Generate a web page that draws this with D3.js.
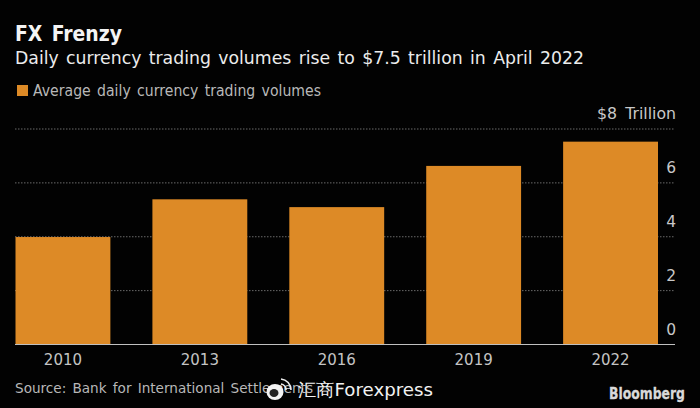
<!DOCTYPE html>
<html><head><meta charset="utf-8">
<script src="https://cdn.jsdelivr.net/npm/d3@7"></script>
<style>html,body{margin:0;padding:0;background:#000}svg{display:block}text{font-family:"DejaVu Sans",sans-serif}</style>
</head><body><div id="c"></div>
<script>
const categories=["2010","2013","2016","2019","2022"];
const values=[3.99,5.39,5.1,6.63,7.53];
const yTicks=[0,2,4,6,8];
const title="FX Frenzy";
const subtitle="Daily currency trading volumes rise to $7.5 trillion in April 2022";
const legendLabel="Average daily currency trading volumes";
const source="Source: Bank for International Settlements";
const watermark="汇商Forexpress";
const credit="Bloomberg";
const W=700,H=408;
const svg=d3.select("#c").append("svg").attr("width",W).attr("height",H);
svg.append("rect").attr("width",W).attr("height",H).attr("fill","#020202");
const x=d3.scaleBand().domain(categories).range([15.5,658]).paddingInner(0.307).paddingOuter(0);
const y=d3.scaleLinear().domain([0,8]).range([344.5,129]);
const orange="#dd8a26";
const fit=(s,len)=>s.attr("textLength",len).attr("lengthAdjust","spacingAndGlyphs");
// grid
svg.append("g").selectAll("line").data(yTicks.filter(d=>d>0)).join("line")
 .attr("x1",15).attr("x2",675).attr("y1",d=>y(d)).attr("y2",d=>y(d))
 .attr("stroke","#6a6a6a").attr("stroke-width",1).attr("stroke-dasharray","1.5 1.5");
// bars
svg.append("g").selectAll("rect").data(values).join("rect")
 .attr("x",(d,i)=>x(categories[i])).attr("width",x.bandwidth())
 .attr("y",d=>y(d)).attr("height",d=>y(0)-y(d)).attr("fill",orange);
// baseline
svg.append("line").attr("x1",15).attr("x2",675).attr("y1",y(0)).attr("y2",y(0)).attr("stroke","#c0c0c0").attr("stroke-width",1);
// y labels
svg.append("g").selectAll("text").data(yTicks.filter(d=>d<8)).join("text")
 .attr("x",676).attr("y",d=>y(d)-9.5).attr("text-anchor","end").attr("fill","#c8c8c8").attr("font-size",15.5).text(d=>d);
fit(svg.append("text").attr("x",597).attr("y",119).attr("fill","#c8c8c8").attr("font-size",15).attr("word-spacing",3).text("$8 Trillion"),79);
// x labels
svg.append("g").selectAll("text").data(categories).join("text")
 .attr("x",d=>x(d)+x.bandwidth()/2).attr("y",365).attr("text-anchor","middle").attr("fill","#c4c4c4").attr("font-size",15).text(d=>d);
// headings
fit(svg.append("text").attr("x",15).attr("y",41).attr("fill","#f4f4f4").attr("font-size",21).attr("font-weight","bold").attr("word-spacing",3).text(title),107);
fit(svg.append("text").attr("x",15).attr("y",64).attr("fill","#ececec").attr("font-size",18.5).attr("word-spacing",2).text(subtitle),569);
svg.append("rect").attr("x",17).attr("y",85).attr("width",11).attr("height",11).attr("fill",orange);
fit(svg.append("text").attr("x",33).attr("y",96).attr("fill","#b8b8b8").attr("font-size",15).attr("word-spacing",2).text(legendLabel),288);
fit(svg.append("text").attr("x",15).attr("y",393).attr("fill","#b8b8b8").attr("font-size",14.5).attr("word-spacing",2).text(source),298);
// watermark
const wm=svg.append("g");
wm.append("ellipse").attr("cx",275).attr("cy",392).attr("rx",8.5).attr("ry",8).attr("fill","#f4f4f4");
wm.append("ellipse").attr("cx",274).attr("cy",393).attr("rx",4.5).attr("ry",4).attr("fill","#222");
wm.append("path").attr("d","M281 379a11 11 0 0 1 10 11M281 384a6 6 0 0 1 5 6").attr("fill","none").attr("stroke","#eee").attr("stroke-width",1.6);
fit(wm.append("text").attr("x",298).attr("y",396).attr("fill","#f2f2f2").attr("font-family","'Noto Sans CJK SC','Noto Sans',sans-serif").attr("font-size",18).text(watermark),135);
fit(svg.append("text").attr("x",609).attr("y",399).attr("fill","#d9d9d9").attr("stroke","#d9d9d9").attr("stroke-width",0.3).attr("font-family","'Liberation Sans',sans-serif").attr("font-weight","bold").attr("font-size",15).text(credit),76);
</script></body></html>
